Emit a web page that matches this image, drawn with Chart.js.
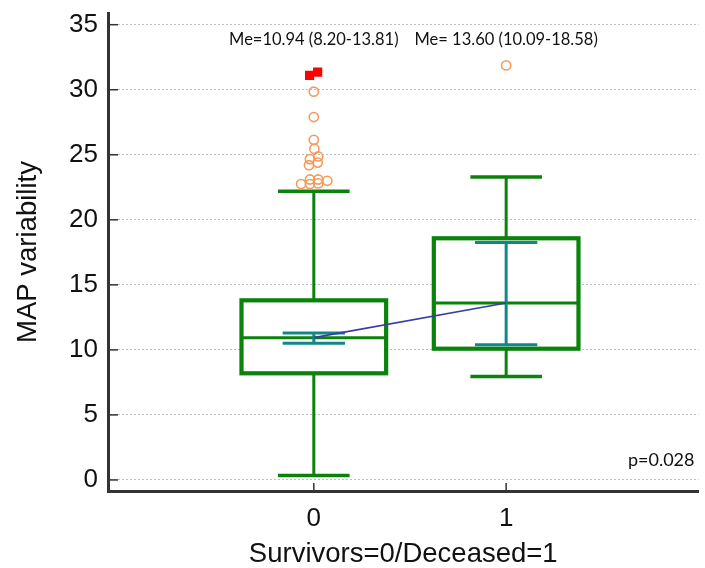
<!DOCTYPE html>
<html>
<head>
<meta charset="utf-8">
<script src="https://cdn.jsdelivr.net/npm/chart.js@4"></script>
<style>
  html, body { margin: 0; padding: 0; background: #fff; }
</style>
</head>
<body>
<canvas id="chart" width="705" height="568"></canvas>
<script>
// groups on the x axis: Survivors=0 / Deceased=1
const groups = [0, 1];
const q1 = [8.20, 10.09];
const medians = [10.94, 13.60];
const q3 = [13.81, 18.58];
const whiskerLow = [0.35, 7.95];
const whiskerHigh = [22.2, 23.3];
const ciLow = [10.5, 10.4];
const ciHigh = [11.3, 18.25];
const medianLabels = ['Me=10.94 (8.20-13.81)', 'Me= 13.60 (10.09-18.58)'];

// outside values (x = group + small jitter)
const outlierX = [0, 0, 0, 0.003, 0.023, -0.02, 0.02, -0.025, -0.02, 0.023, 0.07, -0.066, -0.02, 0.023, 1];
const outlierY = [29.85, 27.9, 26.15, 25.45, 24.87, 24.67, 24.4, 24.2, 23.1, 23.1, 23.0, 22.75, 22.75, 22.8, 31.87];
// far out values
const farOutX = [-0.022, 0.02];
const farOutY = [31.1, 31.35];

const yTicks = [0, 5, 10, 15, 20, 25, 30, 35];
const xTicks = [0, 1];
const pValue = 'p=0.028';

const GREEN = '#0b820b';
const TEAL = '#12878a';
const BOX_HALF = 0.376;
const CAP_HALF = 0.186;
const CI_HALF = 0.162;

function seg(ctx, x1, y1, x2, y2, color, width) {
  ctx.beginPath();
  ctx.strokeStyle = color;
  ctx.lineWidth = width;
  ctx.moveTo(x1, y1);
  ctx.lineTo(x2, y2);
  ctx.stroke();
}

const boxPlot = {
  id: 'boxPlot',
  beforeDatasetsDraw(chart) {
    const { ctx, chartArea } = chart;
    const x = chart.scales.x, y = chart.scales.y;
    ctx.save();
    ctx.lineCap = 'butt';

    // inner tick marks
    yTicks.forEach(v => {
      const py = y.getPixelForValue(v);
      seg(ctx, chartArea.left, py, chartArea.left + 10, py, '#333', 1.5);
    });
    xTicks.forEach(v => {
      const px = x.getPixelForValue(v);
      seg(ctx, px, chartArea.bottom, px, chartArea.bottom - 8, '#333', 1.5);
    });

    groups.forEach((g, i) => {
      const cx = x.getPixelForValue(g);
      const bx1 = x.getPixelForValue(g - BOX_HALF), bx2 = x.getPixelForValue(g + BOX_HALF);
      const cx1 = x.getPixelForValue(g - CAP_HALF), cx2 = x.getPixelForValue(g + CAP_HALF);
      const ix1 = x.getPixelForValue(g - CI_HALF), ix2 = x.getPixelForValue(g + CI_HALF);
      const pq1 = y.getPixelForValue(q1[i]), pq3 = y.getPixelForValue(q3[i]);
      const pmed = y.getPixelForValue(medians[i]);
      const plo = y.getPixelForValue(whiskerLow[i]), phi = y.getPixelForValue(whiskerHigh[i]);

      // whiskers
      seg(ctx, cx, pq3, cx, phi, GREEN, 3);
      seg(ctx, cx, pq1, cx, plo, GREEN, 3);
      seg(ctx, cx1, phi, cx2, phi, GREEN, 3.5);
      seg(ctx, cx1, plo, cx2, plo, GREEN, 3.5);

      // box
      ctx.fillStyle = '#fff';
      ctx.fillRect(bx1, pq3, bx2 - bx1, pq1 - pq3);
      ctx.strokeStyle = GREEN;
      ctx.lineWidth = 4.2;
      ctx.lineJoin = 'miter';
      ctx.strokeRect(bx1, pq3, bx2 - bx1, pq1 - pq3);
      seg(ctx, bx1, pmed, bx2, pmed, GREEN, 3);

      // confidence interval of the median
      const pcl = y.getPixelForValue(ciLow[i]), pch = y.getPixelForValue(ciHigh[i]);
      seg(ctx, cx, pcl, cx, pch, TEAL, 3);
      seg(ctx, ix1, pcl, ix2, pcl, TEAL, 3);
      seg(ctx, ix1, pch, ix2, pch, TEAL, 3);
    });
    ctx.restore();
  },
  afterDraw(chart) {
    const { ctx, chartArea } = chart;
    const x = chart.scales.x, y = chart.scales.y;
    ctx.save();
    ctx.fillStyle = '#111';
    ctx.font = '16.5px Lato';
    ctx.textAlign = 'center';
    ctx.textBaseline = 'middle';
    groups.forEach((g, i) => {
      ctx.fillText(medianLabels[i], x.getPixelForValue(g), y.getPixelForValue(33.85));
    });
    ctx.font = '18px Lato';
    ctx.textAlign = 'right';
    ctx.fillText(pValue, chartArea.right - 4, y.getPixelForValue(1.55));
    ctx.restore();
  }
};

new Chart(document.getElementById('chart'), {
  data: {
    datasets: [
      {
        type: 'line',
        data: groups.map((g, i) => ({ x: g, y: medians[i] })),
        borderColor: '#3b3ba6',
        borderWidth: 1.6,
        pointRadius: 0,
        fill: false
      },
      {
        type: 'scatter',
        data: outlierX.map((v, i) => ({ x: v, y: outlierY[i] })),
        pointStyle: 'circle',
        pointRadius: 4.6,
        borderColor: '#f59a5a',
        backgroundColor: 'rgba(255,255,255,0)',
        borderWidth: 1.6
      },
      {
        type: 'scatter',
        data: farOutX.map((v, i) => ({ x: v, y: farOutY[i] })),
        pointStyle: 'rect',
        pointRadius: 6.5,
        borderWidth: 0,
        backgroundColor: '#ff0000',
        borderColor: '#ff0000'
      }
    ]
  },
  options: {
    responsive: false,
    animation: false,
    devicePixelRatio: 1,
    layout: { padding: { top: 13, right: 2, left: 0, bottom: 0 } },
    plugins: { legend: { display: false }, tooltip: { enabled: false } },
    scales: {
      x: {
        type: 'linear',
        min: -1.07,
        max: 2.0,
        afterBuildTicks: s => { s.ticks = xTicks.map(v => ({ value: v })); },
        afterFit: s => { s.height = 77; s.paddingLeft = 0; s.paddingRight = 0; },
        grid: { display: false, drawTicks: false },
        border: { display: true, color: '#333', width: 3 },
        ticks: {
          padding: 12,
          color: '#111',
          font: { family: 'Liberation Sans', size: 26 }
        },
        title: {
          display: true,
          text: 'Survivors=0/Deceased=1',
          color: '#111',
          font: { family: 'Liberation Sans', size: 27.5, lineHeight: 1.0 },
          padding: { top: 0, bottom: 0 }
        }
      },
      y: {
        type: 'linear',
        min: -0.85,
        max: 35.9,
        afterBuildTicks: s => { s.ticks = yTicks.map(v => ({ value: v })); },
        afterFit: s => { s.width = 108; s.paddingTop = 0; s.paddingBottom = 0; },
        grid: { color: '#bdbdbd', lineWidth: 1, drawTicks: false },
        border: { display: true, color: '#333', width: 3, dash: [2, 2] },
        ticks: {
          padding: 10,
          color: '#111',
          font: { family: 'Liberation Sans', size: 26, lineHeight: 0.8 }
        },
        title: {
          display: true,
          text: 'MAP variability',
          color: '#111',
          font: { family: 'Liberation Sans', size: 27.5 },
          padding: { top: 12, bottom: 0 }
        }
      }
    }
  },
  plugins: [boxPlot]
});
</script>
</body>
</html>
